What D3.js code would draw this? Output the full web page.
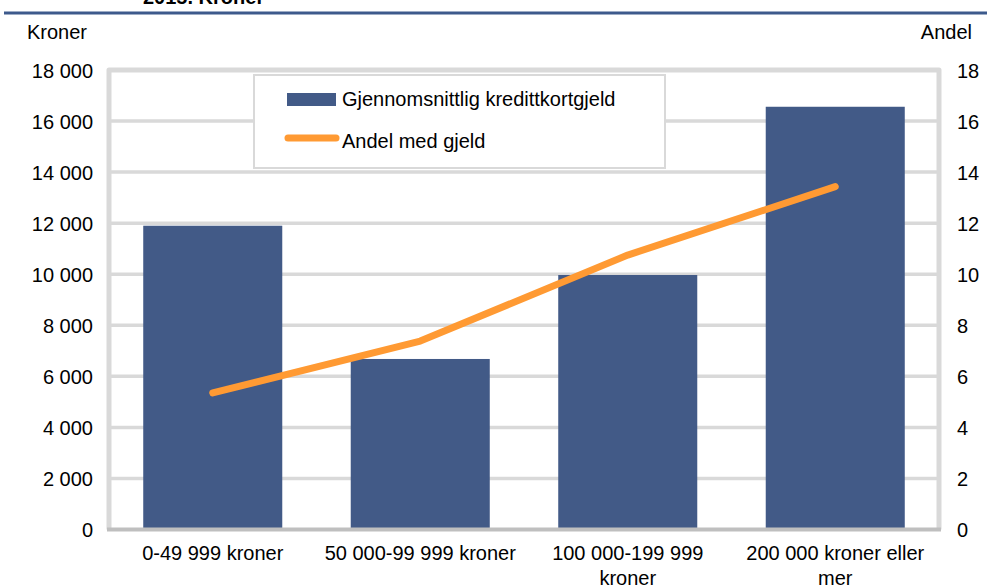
<!DOCTYPE html>
<html>
<head>
<meta charset="utf-8">
<script src="https://cdn.jsdelivr.net/npm/d3@7"></script>
<style>
  html, body { margin: 0; padding: 0; background: #fff; }
  svg { display: block; font-family: "Liberation Sans", Arial, sans-serif; }
</style>
</head>
<body>
<svg id="chart" width="987" height="588"></svg>
<script>
const categories = ["0-49 999 kroner", "50 000-99 999 kroner", "100 000-199 999 kroner", "200 000 kroner eller mer"];
const categoryLines = [["0-49 999 kroner"], ["50 000-99 999 kroner"], ["100 000-199 999", "kroner"], ["200 000 kroner eller", "mer"]];
const debtValues = [11900, 6680, 9970, 16560];
const shareValues = [5.35, 7.38, 10.75, 13.43];
const leftTicks = [0, 2000, 4000, 6000, 8000, 10000, 12000, 14000, 16000, 18000];
const rightTicks = [0, 2, 4, 6, 8, 10, 12, 14, 16, 18];
const seriesNames = ["Gjennomsnittlig kredittkortgjeld", "Andel med gjeld"];

const svg = d3.select("#chart");
const L = 109, R = 939, T = 70, B = 529.5;
const barColor = "#425A87", lineColor = "#FF9A33", gridColor = "#D9D9D9";

const x = d3.scaleBand().domain(categories).range([L, R]).paddingInner(0.33).paddingOuter(0.165);
const yL = d3.scaleLinear().domain([0, 18000]).range([B, T]);
const yR = d3.scaleLinear().domain([0, 18]).range([B, T]);
const fmt = v => d3.format(",")(v).replace(/,/g, " ");

// title remnant and rule
svg.append("text").attr("x", 143).attr("y", 4).attr("font-size", 20).attr("font-weight", "bold").attr("fill", "#000").text("2015. Kroner");
svg.append("line").attr("x1", 4).attr("x2", 987).attr("y1", 13).attr("y2", 13).attr("stroke", "#3D5A8C").attr("stroke-width", 3);

// axis titles
svg.append("text").attr("x", 27).attr("y", 39).attr("font-size", 20).text("Kroner");
svg.append("text").attr("x", 972).attr("y", 39).attr("font-size", 20).attr("text-anchor", "end").text("Andel");

// gridlines
svg.append("g").selectAll("line").data(leftTicks.filter(t => t > 0 && t < 18000)).join("line")
  .attr("x1", L).attr("x2", R).attr("y1", d => yL(d)).attr("y2", d => yL(d))
  .attr("stroke", gridColor).attr("stroke-width", 3.5);

// frame
svg.append("path").attr("d", `M${L},${B} V${T} H${R} V${B}`).attr("fill", "none")
  .attr("stroke", gridColor).attr("stroke-width", 5).attr("stroke-linejoin", "round");

// bars
svg.append("g").selectAll("rect").data(categories).join("rect")
  .attr("x", d => x(d)).attr("width", x.bandwidth())
  .attr("y", (d, i) => yL(debtValues[i])).attr("height", (d, i) => B - yL(debtValues[i]))
  .attr("fill", barColor);

// bottom axis line
svg.append("line").attr("x1", L - 2).attr("x2", R + 2).attr("y1", B).attr("y2", B)
  .attr("stroke", "#BFBFBF").attr("stroke-width", 4);

// line series
const line = d3.line().x((d, i) => x(categories[i]) + x.bandwidth() / 2).y(d => yR(d));
svg.append("path").datum(shareValues).attr("d", line).attr("fill", "none")
  .attr("stroke", lineColor).attr("stroke-width", 7).attr("stroke-linecap", "round").attr("stroke-linejoin", "round");

// left axis
const axL = d3.axisLeft(yL).tickValues(leftTicks).tickFormat(fmt).tickSize(0).tickPadding(0);
const gL = svg.append("g").attr("transform", `translate(93,0)`).call(axL);
gL.select(".domain").remove();
gL.selectAll("text").attr("font-size", 20).attr("font-family", "Liberation Sans, Arial, sans-serif").attr("fill", "#000").attr("dy", "0.35em");

// right axis
const axR = d3.axisRight(yR).tickValues(rightTicks).tickFormat(d3.format("d")).tickSize(0).tickPadding(0);
const gR = svg.append("g").attr("transform", `translate(957,0)`).call(axR);
gR.select(".domain").remove();
gR.selectAll("text").attr("font-size", 20).attr("font-family", "Liberation Sans, Arial, sans-serif").attr("fill", "#000").attr("dy", "0.35em");

// x labels
const xl = svg.append("g").selectAll("text").data(categories).join("text")
  .attr("x", d => x(d) + x.bandwidth() / 2).attr("y", 560)
  .attr("text-anchor", "middle").attr("font-size", 20).attr("fill", "#000");
xl.each(function(d, i) {
  const t = d3.select(this);
  categoryLines[i].forEach((s, j) => {
    t.append("tspan").attr("x", x(d) + x.bandwidth() / 2).attr("dy", j === 0 ? 0 : 25).text(s);
  });
});

// legend
const lg = svg.append("g");
lg.append("rect").attr("x", 254).attr("y", 75).attr("width", 411).attr("height", 93)
  .attr("fill", "#fff").attr("stroke", gridColor).attr("stroke-width", 2);
lg.append("rect").attr("x", 287).attr("y", 93).attr("width", 49).attr("height", 13).attr("fill", barColor);
lg.append("text").attr("x", 342).attr("y", 106).attr("font-size", 20).text(seriesNames[0]);
lg.append("line").attr("x1", 288).attr("x2", 336).attr("y1", 138).attr("y2", 138)
  .attr("stroke", lineColor).attr("stroke-width", 7).attr("stroke-linecap", "round");
lg.append("text").attr("x", 342).attr("y", 148).attr("font-size", 20).text(seriesNames[1]);
</script>
</body>
</html>
